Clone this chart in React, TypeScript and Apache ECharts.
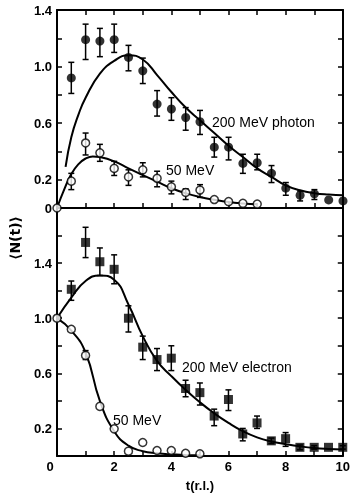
import React, { useEffect, useRef } from "react";
import * as echarts from "echarts";

// ---- Top panel: 200 MeV photon (filled circles) ----
const photonT = [0.5, 1, 1.5, 2, 2.5, 3, 3.5, 4, 4.5, 5, 5.5, 6, 6.5, 7, 7.5, 8, 8.5, 9, 9.5, 10];
const photonV = [0.92, 1.19, 1.18, 1.19, 1.065, 0.97, 0.735, 0.7, 0.64, 0.61, 0.43, 0.43, 0.315, 0.32, 0.245, 0.14, 0.09, 0.1, 0.057, 0.05];
const photonLo = [0.81, 1.05, 1.07, 1.1, 0.97, 0.88, 0.65, 0.62, 0.55, 0.52, 0.36, 0.34, 0.245, 0.27, 0.18, 0.09, 0.05, 0.06, null, null];
const photonHi = [1.03, 1.3, 1.27, 1.3, 1.15, 1.06, 0.83, 0.78, 0.71, 0.69, 0.5, 0.5, 0.38, 0.38, 0.3, 0.18, 0.12, 0.13, null, null];
const photonFitT = [0.3, 0.5, 0.75, 1, 1.5, 2, 2.5, 3, 3.5, 4, 4.5, 5, 5.5, 6, 6.5, 7, 7.5, 8, 8.5, 9, 9.5, 10];
const photonFitV = [0.29, 0.5, 0.66, 0.78, 0.95, 1.04, 1.08, 1.05, 0.94, 0.82, 0.71, 0.62, 0.53, 0.44, 0.36, 0.28, 0.22, 0.16, 0.125, 0.105, 0.095, 0.09];

// ---- Top panel: 50 MeV photon (open circles) ----
const photon50T = [0, 0.5, 1, 1.5, 2, 2.5, 3, 3.5, 4, 4.5, 5, 5.5, 6, 6.5, 7];
const photon50V = [0, 0.19, 0.46, 0.39, 0.28, 0.22, 0.27, 0.21, 0.15, 0.11, 0.127, 0.06, 0.045, 0.033, 0.028];
const photon50Lo = [null, 0.13, 0.375, 0.33, 0.23, 0.16, 0.22, 0.15, 0.1, 0.06, 0.075, null, null, null, null];
const photon50Hi = [null, 0.245, 0.53, 0.45, 0.33, 0.27, 0.32, 0.26, 0.19, 0.135, 0.165, null, null, null, null];
const photon50FitT = [0, 0.25, 0.5, 0.75, 1, 1.25, 1.5, 2, 2.5, 3, 3.5, 4, 4.5, 5, 5.5, 6, 6.5, 7];
const photon50FitV = [0, 0.13, 0.24, 0.31, 0.35, 0.365, 0.36, 0.33, 0.28, 0.233, 0.186, 0.14, 0.105, 0.078, 0.058, 0.042, 0.032, 0.026];

// ---- Bottom panel: 200 MeV electron (filled squares) ----
const electronT = [0.5, 1, 1.5, 2, 2.5, 3, 3.5, 4, 4.5, 5, 5.5, 6, 6.5, 7, 7.5, 8, 8.5, 9, 9.5, 10];
const electronV = [1.21, 1.55, 1.41, 1.355, 1.0, 0.79, 0.7, 0.71, 0.49, 0.46, 0.29, 0.41, 0.16, 0.24, 0.11, 0.126, 0.063, 0.063, 0.063, 0.063];
const electronLo = [1.13, 1.44, 1.31, 1.25, 0.9, 0.7, 0.62, 0.62, 0.43, 0.37, 0.22, 0.33, 0.11, 0.2, 0.09, 0.07, 0.045, 0.05, null, 0.05];
const electronHi = [1.27, 1.66, 1.51, 1.46, 1.09, 0.87, 0.78, 0.8, 0.55, 0.53, 0.34, 0.48, 0.2, 0.29, 0.13, 0.17, 0.08, 0.075, null, 0.075];
const electronFitT = [0, 0.5, 1, 1.5, 2, 2.5, 3, 3.5, 4, 4.5, 5, 5.5, 6, 6.5, 7, 7.5, 8, 8.5, 9, 9.5, 10];
const electronFitV = [1.0, 1.15, 1.27, 1.31, 1.28, 1.1, 0.87, 0.69, 0.58, 0.48, 0.39, 0.31, 0.24, 0.18, 0.135, 0.105, 0.086, 0.07, 0.058, 0.051, 0.047];

// ---- Bottom panel: 50 MeV electron (open circles) ----
const electron50T = [0, 0.5, 1, 1.5, 2, 2.5, 3, 3.5, 4, 4.5, 5];
const electron50V = [1.0, 0.92, 0.73, 0.36, 0.197, 0.035, 0.098, 0.04, 0.04, 0.02, 0.016];
const electron50Lo = [null, null, 0.7, null, null, null, null, null, null, null, null];
const electron50Hi = [null, null, 0.765, null, null, null, null, null, null, null, null];
const electron50FitT = [0, 0.5, 1, 1.5, 2, 2.5, 3, 3.5, 4, 4.5, 5];
const electron50FitV = [1.0, 0.91, 0.75, 0.4, 0.18, 0.075, 0.035, 0.02, 0.012, 0.008, 0.005];

// ---- Tick labels ----
const topYLabels = ["0", "0.2", "0.6", "1.0", "1.4"];
const bottomYLabels = ["0.2", "0.6", "1.0", "1.4"];
const xLabels = ["0", "2", "4", "6", "8", "10"];

const pairs = (t: number[], v: number[]) => t.map((x, i) => [x, v[i]]);
const errs = (t: number[], lo: (number | null)[], hi: (number | null)[]) =>
  t.map((x, i) => [x, lo[i], hi[i]]).filter((d) => d[1] != null && d[2] != null);

const fmt = (v: number) => {
  const r = Math.round(v * 10) / 10;
  return r === 0 ? "0" : r.toFixed(1);
};

const FONT = "Liberation Sans, Arial, sans-serif";

export default function App() {
  const ref = useRef<HTMLDivElement>(null);
  useEffect(() => {
    const chart = echarts.init(ref.current!, null, { renderer: "svg" });
    const axisLine = { show: true, onZero: false, lineStyle: { color: "#000", width: 2 } };
    const tick = { show: true, inside: true, length: 5, lineStyle: { color: "#000", width: 1.5 } };
    const mkX = (grid: number, pos: string, extra: any = {}) => ({
      type: "value",
      gridIndex: grid,
      position: pos,
      min: 0,
      max: 10,
      interval: 1,
      axisLine,
      axisTick: tick,
      axisLabel: { show: false },
      splitLine: { show: false },
      ...extra,
    });
    const mkY = (grid: number, pos: string, max: number, labels: string[] | null) => ({
      type: "value",
      gridIndex: grid,
      position: pos,
      min: 0,
      max,
      interval: 0.2,
      axisLine,
      axisTick: tick,
      splitLine: { show: false },
      axisLabel: labels
        ? {
            show: true,
            margin: 5,
            color: "#000",
            fontFamily: FONT,
            fontWeight: "bold",
            fontSize: 13,
            formatter: (v: number) => (labels.includes(fmt(v)) ? fmt(v) : ""),
          }
        : { show: false },
    });

    const errSeries = (data: any[], xi: number, yi: number) => ({
      type: "custom",
      xAxisIndex: xi,
      yAxisIndex: yi,
      z: 3,
      data,
      renderItem: (params: any, api: any) => {
        const x = api.value(0);
        const p1 = api.coord([x, api.value(2)]);
        const p2 = api.coord([x, api.value(1)]);
        const st = { stroke: "#000", lineWidth: 1.5 };
        const c = 3;
        return {
          type: "group",
          children: [
            { type: "line", shape: { x1: p1[0], y1: p1[1], x2: p2[0], y2: p2[1] }, style: st },
            { type: "line", shape: { x1: p1[0] - c, y1: p1[1], x2: p1[0] + c, y2: p1[1] }, style: st },
            { type: "line", shape: { x1: p2[0] - c, y1: p2[1], x2: p2[0] + c, y2: p2[1] }, style: st },
          ],
        };
      },
    });
    const fit = (t: number[], v: number[], xi: number, yi: number) => ({
      type: "line",
      xAxisIndex: xi,
      yAxisIndex: yi,
      data: pairs(t, v),
      showSymbol: false,
      smooth: 0.5,
      z: 2,
      lineStyle: { color: "#000", width: 2 },
    });
    const pts = (t: number[], v: number[], xi: number, yi: number, kind: string) => ({
      type: "scatter",
      xAxisIndex: xi,
      yAxisIndex: yi,
      data: pairs(t, v),
      z: 5,
      symbol: kind === "square" ? "rect" : "circle",
      symbolSize: kind === "open" ? 8 : 9,
      itemStyle:
        kind === "open"
          ? { color: "#fff", borderColor: "#000", borderWidth: 1.5 }
          : { color: "#000" },
    });

    const label = (text: string, x: number, y: number) => ({
      type: "text",
      x,
      y,
      style: { text, font: `14px ${FONT}`, fill: "#000", textVerticalAlign: "middle" },
    });

    chart.setOption({
      animation: false,
      grid: [
        { left: 57, top: 10, width: 286, height: 198 },
        { left: 57, top: 208, width: 286, height: 255 },
      ],
      xAxis: [
        mkX(0, "bottom"),
        mkX(0, "top"),
        mkX(1, "bottom", {
          name: "t(r.l.)",
          nameLocation: "middle",
          nameGap: 23,
          nameTextStyle: { color: "#000", fontFamily: FONT, fontSize: 13, fontWeight: "bold" },
          axisLabel: {
            show: true,
            margin: 4,
            color: "#000",
            fontFamily: FONT,
            fontWeight: "bold",
            fontSize: 13,
            formatter: (v: number) => {
              const s = String(Math.round(v));
              if (!xLabels.includes(s)) return "";
              return s === "0" ? "{z|0}" : s;
            },
            rich: { z: { padding: [0, 14, 0, 0], fontFamily: FONT, fontWeight: "bold", fontSize: 13, color: "#000" } },
          },
        }),
        mkX(1, "top", { axisTick: { show: false } }),
      ],
      yAxis: [
        mkY(0, "left", 1.4, topYLabels),
        mkY(0, "right", 1.4, null),
        mkY(1, "left", 1.8, bottomYLabels),
        mkY(1, "right", 1.8, null),
      ],
      series: [
        fit(photonFitT, photonFitV, 0, 0),
        fit(photon50FitT, photon50FitV, 0, 0),
        fit(electronFitT, electronFitV, 2, 2),
        fit(electron50FitT, electron50FitV, 2, 2),
        errSeries(errs(photonT, photonLo, photonHi), 0, 0),
        errSeries(errs(photon50T, photon50Lo, photon50Hi), 0, 0),
        errSeries(errs(electronT, electronLo, electronHi), 2, 2),
        errSeries(errs(electron50T, electron50Lo, electron50Hi), 2, 2),
        pts(photonT, photonV, 0, 0, "filled"),
        pts(photon50T, photon50V, 0, 0, "open"),
        pts(electronT, electronV, 2, 2, "square"),
        pts(electron50T, electron50V, 2, 2, "open"),
      ],
      graphic: [
        label("200 MeV photon", 212, 122),
        label("50 MeV", 166, 170),
        label("200 MeV electron", 182, 367),
        label("50 MeV", 113, 420),
        {
          type: "text",
          x: 15,
          y: 238,
          rotation: Math.PI / 2,
          style: {
            text: "⟨N(t)⟩",
            font: `bold 14px DejaVu Sans, ${FONT}`,
            fill: "#000",
            textAlign: "center",
            textVerticalAlign: "middle",
          },
        },
      ],
    });
    return () => chart.dispose();
  }, []);
  return <div ref={ref} style={{ position: "fixed", left: 0, top: 0, width: 353, height: 497 }} />;
}
